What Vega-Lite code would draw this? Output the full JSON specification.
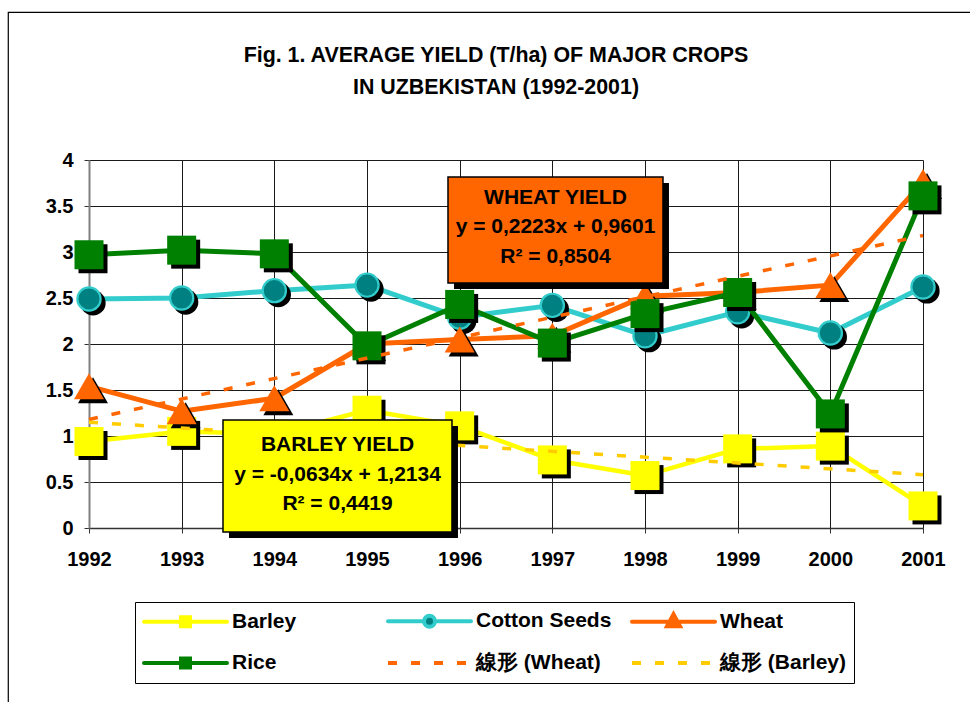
{
  "$schema": "https://vega.github.io/schema/vega-lite/v6.json",
  "width": 834,
  "height": 368,
  "autosize": "none",
  "padding": {"left": 89, "top": 160, "right": 47, "bottom": 174},
  "background": "white",
  "config": {"view": {"stroke": null}},
  "title": {
    "text": ["Fig. 1.  AVERAGE YIELD (T/ha) OF MAJOR CROPS", "IN UZBEKISTAN (1992-2001)"],
    "font": "Liberation Sans",
    "fontSize": 21.4,
    "fontWeight": "bold",
    "color": "#000",
    "lineHeight": 32,
    "anchor": "middle",
    "frame": "group",
    "dx": -10,
    "offset": -87
  },
  "datasets": {
    "yield": [
      {"year": 1992, "crop": "Barley", "yield": 0.94},
      {"year": 1993, "crop": "Barley", "yield": 1.05},
      {"year": 1994, "crop": "Barley", "yield": 1.02},
      {"year": 1995, "crop": "Barley", "yield": 1.28},
      {"year": 1996, "crop": "Barley", "yield": 1.11},
      {"year": 1997, "crop": "Barley", "yield": 0.74},
      {"year": 1998, "crop": "Barley", "yield": 0.57},
      {"year": 1999, "crop": "Barley", "yield": 0.86},
      {"year": 2000, "crop": "Barley", "yield": 0.89},
      {"year": 2001, "crop": "Barley", "yield": 0.24},
      {"year": 1992, "crop": "Cotton Seeds", "yield": 2.49},
      {"year": 1993, "crop": "Cotton Seeds", "yield": 2.5},
      {"year": 1994, "crop": "Cotton Seeds", "yield": 2.58},
      {"year": 1995, "crop": "Cotton Seeds", "yield": 2.64},
      {"year": 1996, "crop": "Cotton Seeds", "yield": 2.29},
      {"year": 1997, "crop": "Cotton Seeds", "yield": 2.42},
      {"year": 1998, "crop": "Cotton Seeds", "yield": 2.09},
      {"year": 1999, "crop": "Cotton Seeds", "yield": 2.35},
      {"year": 2000, "crop": "Cotton Seeds", "yield": 2.12},
      {"year": 2001, "crop": "Cotton Seeds", "yield": 2.62},
      {"year": 1992, "crop": "Wheat", "yield": 1.54},
      {"year": 1993, "crop": "Wheat", "yield": 1.27},
      {"year": 1994, "crop": "Wheat", "yield": 1.41},
      {"year": 1995, "crop": "Wheat", "yield": 2.0},
      {"year": 1996, "crop": "Wheat", "yield": 2.05},
      {"year": 1997, "crop": "Wheat", "yield": 2.09},
      {"year": 1998, "crop": "Wheat", "yield": 2.52},
      {"year": 1999, "crop": "Wheat", "yield": 2.56},
      {"year": 2000, "crop": "Wheat", "yield": 2.64},
      {"year": 2001, "crop": "Wheat", "yield": 3.76},
      {"year": 1992, "crop": "Rice", "yield": 2.97},
      {"year": 1993, "crop": "Rice", "yield": 3.02},
      {"year": 1994, "crop": "Rice", "yield": 2.98},
      {"year": 1995, "crop": "Rice", "yield": 1.98},
      {"year": 1996, "crop": "Rice", "yield": 2.43},
      {"year": 1997, "crop": "Rice", "yield": 2.01},
      {"year": 1998, "crop": "Rice", "yield": 2.33},
      {"year": 1999, "crop": "Rice", "yield": 2.56},
      {"year": 2000, "crop": "Rice", "yield": 1.24},
      {"year": 2001, "crop": "Rice", "yield": 3.61}
    ],
    "trend": [
      {"year": 1992, "trend": "線形 (Wheat)", "fit": 1.18},
      {"year": 2001, "trend": "線形 (Wheat)", "fit": 3.18},
      {"year": 1992, "trend": "線形 (Barley)", "fit": 1.15},
      {"year": 2001, "trend": "線形 (Barley)", "fit": 0.58}
    ],
    "notes": [
      {"crop": "Wheat", "note": "WHEAT YIELD\ny = 0,2223x + 0,9601\nR² = 0,8504"},
      {"crop": "Barley", "note": "BARLEY YIELD\ny = -0,0634x + 1,2134\nR² = 0,4419"}
    ],
    "frame": [{"name": "frame"}]
  },
  "layer": [
    {
      "data": {"name": "yield"},
      "transform": [{"filter": "datum.crop === 'Barley'"}],
      "mark": {"type": "line", "strokeWidth": 4.5, "strokeJoin": "round"},
      "encoding": {
        "x": {
          "field": "year", "type": "quantitative",
          "scale": {"domain": [1992, 2001], "nice": false, "zero": false},
          "axis": {
            "title": null, "values": [1992, 1993, 1994, 1995, 1996, 1997, 1998, 1999, 2000, 2001], "format": "d",
            "grid": true, "gridColor": "#1a1a1a", "gridWidth": 1,
            "domainColor": "#333", "domainWidth": 1.5, "tickColor": "#333", "tickSize": 5, "tickWidth": 1,
            "labelFont": "Liberation Sans", "labelFontSize": 20, "labelFontWeight": "bold", "labelColor": "#000",
            "labelPadding": 16, "labelFlush": false, "labelOverlap": false
          }
        },
        "y": {
          "field": "yield", "type": "quantitative",
          "scale": {"domain": [0, 4], "nice": false, "zero": true},
          "axis": {
            "title": null, "values": [0, 0.5, 1, 1.5, 2, 2.5, 3, 3.5, 4], "format": ".1~f",
            "grid": true, "gridColor": "#1a1a1a", "gridWidth": 1,
            "domainColor": "#808080", "domainWidth": 2, "tickColor": "#333", "tickSize": 5, "tickWidth": 1,
            "labelFont": "Liberation Sans", "labelFontSize": 20, "labelFontWeight": "bold", "labelColor": "#000",
            "labelPadding": 11, "labelFlush": false, "labelOverlap": false
          }
        },
        "color": {
          "field": "crop", "type": "nominal",
          "scale": {
            "domain": ["Barley", "Cotton Seeds", "Wheat", "Rice", "線形 (Wheat)", "線形 (Barley)"],
            "range": ["#FFFF00", "#33CCCC", "#FF6600", "#008000", "#FF6600", "#FFCC00"]
          },
          "legend": {
            "title": null, "orient": "none", "legendX": 46, "legendY": 442, "direction": "horizontal",
            "columns": 3, "gridAlign": "all", "columnPadding": 12, "rowPadding": 15, "padding": 7,
            "strokeColor": "#000", "fillColor": "#fff",
            "symbolSize": 400, "symbolStrokeWidth": 4, "labelOffset": 66,
            "labelFont": "Liberation Sans", "labelFontSize": 21, "labelFontWeight": "bold", "labelColor": "#000", "labelLimit": 400,
            "encode": {
              "symbols": {
                "update": {
                  "shape": {"signal": "datum.value === 'Barley' || datum.value === 'Rice' ? 'M-1,0H7.3M2.7,-0.45H3.6V0.45H2.7Z' : datum.value === 'Cotton Seeds' ? 'M-1,0H2.6M3.7,0H7.3M2.6,0A0.55,0.55 0 1,0 3.7,0A0.55,0.55 0 1,0 2.6,0Z' : datum.value === 'Wheat' ? 'M-1,0H7.3M3.15,-0.75L3.8,0.45H2.5Z' : 'M-1,0H7.3'"},
                  "fill": {"signal": "datum.value === 'Barley' ? '#FFFF00' : datum.value === 'Cotton Seeds' ? '#008080' : datum.value === 'Wheat' ? '#FF6600' : datum.value === 'Rice' ? '#008000' : 'transparent'"},
                  "strokeDash": {"signal": "indexof(datum.value, '線形') === 0 ? [9, 14] : []"},
                  "strokeCap": {"signal": "indexof(datum.value, '線形') === 0 ? 'butt' : 'round'"}
                }
              }
            }
          }
        }
      }
    },
    {
      "data": {"name": "frame"},
      "mark": {"type": "rect", "fill": "transparent", "stroke": "#000", "strokeWidth": 1.2, "clip": false},
      "encoding": {
        "x": {"datum": 1991.129, "type": "quantitative"},
        "x2": {"datum": 2003},
        "y": {"datum": 5.605, "type": "quantitative"},
        "y2": {"datum": -3}
      }
    },
    {
      "data": {"name": "yield"},
      "transform": [{"filter": "datum.crop === 'Barley'"}],
      "mark": {"type": "point", "shape": "square", "filled": true, "color": "#000", "opacity": 1, "size": 841, "xOffset": 4, "yOffset": 4},
      "encoding": {"x": {"field": "year", "type": "quantitative"}, "y": {"field": "yield", "type": "quantitative"}}
    },
    {
      "data": {"name": "yield"},
      "transform": [{"filter": "datum.crop === 'Barley'"}],
      "mark": {"type": "point", "shape": "square", "filled": true, "color": "#FFFF00", "opacity": 1, "size": 841},
      "encoding": {"x": {"field": "year", "type": "quantitative"}, "y": {"field": "yield", "type": "quantitative"}}
    },
    {
      "data": {"name": "yield"},
      "transform": [{"filter": "datum.crop === 'Cotton Seeds'"}],
      "mark": {"type": "line", "strokeWidth": 5, "strokeJoin": "round", "color": "#33CCCC"},
      "encoding": {"x": {"field": "year", "type": "quantitative"}, "y": {"field": "yield", "type": "quantitative"}}
    },
    {
      "data": {"name": "yield"},
      "transform": [{"filter": "datum.crop === 'Cotton Seeds'"}],
      "mark": {"type": "point", "shape": "circle", "filled": true, "color": "#000", "opacity": 1, "size": 640, "xOffset": 4, "yOffset": 4},
      "encoding": {"x": {"field": "year", "type": "quantitative"}, "y": {"field": "yield", "type": "quantitative"}}
    },
    {
      "data": {"name": "yield"},
      "transform": [{"filter": "datum.crop === 'Cotton Seeds'"}],
      "mark": {"type": "point", "shape": "circle", "filled": true, "fill": "#008080", "stroke": "#33CCCC", "strokeWidth": 2.2, "opacity": 1, "size": 540},
      "encoding": {"x": {"field": "year", "type": "quantitative"}, "y": {"field": "yield", "type": "quantitative"}}
    },
    {
      "data": {"name": "yield"},
      "transform": [{"filter": "datum.crop === 'Wheat'"}],
      "mark": {"type": "line", "strokeWidth": 5, "strokeJoin": "round", "color": "#FF6600"},
      "encoding": {"x": {"field": "year", "type": "quantitative"}, "y": {"field": "yield", "type": "quantitative"}}
    },
    {
      "data": {"name": "yield"},
      "transform": [{"filter": "datum.crop === 'Wheat'"}],
      "mark": {"type": "point", "shape": "triangle-up", "filled": true, "color": "#000", "opacity": 1, "size": 900, "xOffset": 4, "yOffset": 4},
      "encoding": {"x": {"field": "year", "type": "quantitative"}, "y": {"field": "yield", "type": "quantitative"}}
    },
    {
      "data": {"name": "yield"},
      "transform": [{"filter": "datum.crop === 'Wheat'"}],
      "mark": {"type": "point", "shape": "triangle-up", "filled": true, "color": "#FF6600", "opacity": 1, "size": 900},
      "encoding": {"x": {"field": "year", "type": "quantitative"}, "y": {"field": "yield", "type": "quantitative"}}
    },
    {
      "data": {"name": "yield"},
      "transform": [{"filter": "datum.crop === 'Rice'"}],
      "mark": {"type": "line", "strokeWidth": 5, "strokeJoin": "round", "color": "#008000"},
      "encoding": {"x": {"field": "year", "type": "quantitative"}, "y": {"field": "yield", "type": "quantitative"}}
    },
    {
      "data": {"name": "yield"},
      "transform": [{"filter": "datum.crop === 'Rice'"}],
      "mark": {"type": "point", "shape": "square", "filled": true, "color": "#000", "opacity": 1, "size": 841, "xOffset": 4, "yOffset": 4},
      "encoding": {"x": {"field": "year", "type": "quantitative"}, "y": {"field": "yield", "type": "quantitative"}}
    },
    {
      "data": {"name": "yield"},
      "transform": [{"filter": "datum.crop === 'Rice'"}],
      "mark": {"type": "point", "shape": "square", "filled": true, "color": "#008000", "opacity": 1, "size": 841},
      "encoding": {"x": {"field": "year", "type": "quantitative"}, "y": {"field": "yield", "type": "quantitative"}}
    },
    {
      "data": {"name": "trend"},
      "transform": [{"filter": "datum.trend === '線形 (Wheat)'"}],
      "mark": {"type": "line", "strokeWidth": 3.5, "strokeDash": [9, 14], "color": "#FF6600"},
      "encoding": {"x": {"field": "year", "type": "quantitative"}, "y": {"field": "fit", "type": "quantitative"}}
    },
    {
      "data": {"name": "trend"},
      "transform": [{"filter": "datum.trend === '線形 (Barley)'"}],
      "mark": {"type": "line", "strokeWidth": 3.5, "strokeDash": [9, 14], "color": "#FFCC00"},
      "encoding": {"x": {"field": "year", "type": "quantitative"}, "y": {"field": "fit", "type": "quantitative"}}
    },
    {
      "data": {"name": "notes"},
      "transform": [{"filter": "datum.crop === 'Wheat'"}],
      "mark": {"type": "rect", "fill": "#000", "xOffset": 6, "x2Offset": 6, "yOffset": 6, "y2Offset": 6, "clip": false},
      "encoding": {
        "x": {"datum": 1995.874, "type": "quantitative"}, "x2": {"datum": 1998.194},
        "y": {"datum": 3.815, "type": "quantitative"}, "y2": {"datum": 2.663}
      }
    },
    {
      "data": {"name": "notes"},
      "transform": [{"filter": "datum.crop === 'Wheat'"}],
      "mark": {"type": "rect", "fill": "#FF6600", "stroke": "#000", "strokeWidth": 1.5, "clip": false},
      "encoding": {
        "x": {"datum": 1995.874, "type": "quantitative"}, "x2": {"datum": 1998.194},
        "y": {"datum": 3.815, "type": "quantitative"}, "y2": {"datum": 2.663}
      }
    },
    {
      "data": {"name": "notes"},
      "transform": [{"filter": "datum.crop === 'Wheat'"}],
      "mark": {"type": "text", "font": "Liberation Sans", "fontSize": 21, "fontWeight": "bold", "color": "#000", "lineBreak": "\n", "lineHeight": 29.5, "align": "center", "baseline": "middle"},
      "encoding": {
        "x": {"datum": 1997.034, "type": "quantitative"},
        "y": {"datum": 3.587, "type": "quantitative"},
        "text": {"field": "note"}
      }
    },
    {
      "data": {"name": "notes"},
      "transform": [{"filter": "datum.crop === 'Barley'"}],
      "mark": {"type": "rect", "fill": "#000", "xOffset": 6, "x2Offset": 6, "yOffset": 6, "y2Offset": 6, "clip": false},
      "encoding": {
        "x": {"datum": 1993.446, "type": "quantitative"}, "x2": {"datum": 1995.917},
        "y": {"datum": 1.174, "type": "quantitative"}, "y2": {"datum": -0.043}
      }
    },
    {
      "data": {"name": "notes"},
      "transform": [{"filter": "datum.crop === 'Barley'"}],
      "mark": {"type": "rect", "fill": "#FFFF00", "stroke": "#000", "strokeWidth": 1.5, "clip": false},
      "encoding": {
        "x": {"datum": 1993.446, "type": "quantitative"}, "x2": {"datum": 1995.917},
        "y": {"datum": 1.174, "type": "quantitative"}, "y2": {"datum": -0.043}
      }
    },
    {
      "data": {"name": "notes"},
      "transform": [{"filter": "datum.crop === 'Barley'"}],
      "mark": {"type": "text", "font": "Liberation Sans", "fontSize": 21, "fontWeight": "bold", "color": "#000", "lineBreak": "\n", "lineHeight": 29.5, "align": "center", "baseline": "middle"},
      "encoding": {
        "x": {"datum": 1994.682, "type": "quantitative"},
        "y": {"datum": 0.902, "type": "quantitative"},
        "text": {"field": "note"}
      }
    }
  ]
}
